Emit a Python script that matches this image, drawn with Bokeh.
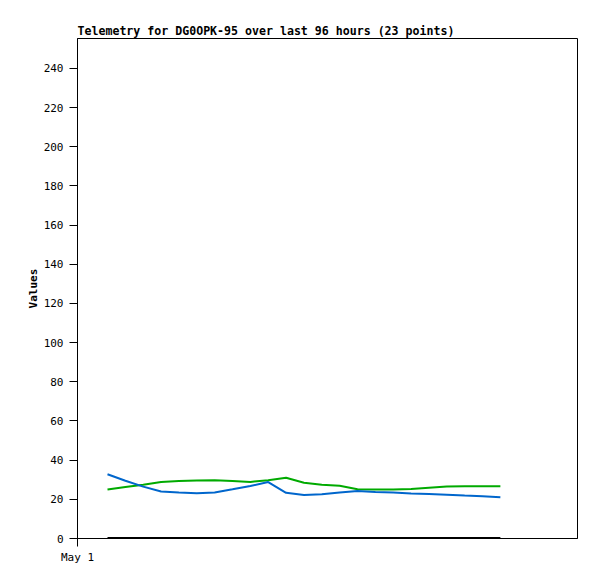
from bokeh.plotting import figure
from bokeh.models import FixedTicker, Range1d
from bokeh.embed import file_html
from bokeh.resources import INLINE

# hours since May 1 00:00
n_points = 23
x_start = 7.2
x_step = 4.286
hours = [round(x_start + i * x_step, 2) for i in range(n_points)]

series_blue = [32.8, 29.5, 26.5, 24.0, 23.5, 23.1, 23.5, 25.1, 26.8, 28.8, 23.3, 22.2,
               22.6, 23.5, 24.3, 23.8, 23.5, 23.0, 22.7, 22.3, 21.9, 21.6, 21.1]
series_green = [25.0, 26.3, 27.5, 28.8, 29.3, 29.6, 29.8, 29.4, 28.9, 29.8, 31.0, 28.5,
                27.5, 26.9, 25.2, 25.0, 25.0, 25.3, 25.9, 26.5, 26.7, 26.7, 26.7]
series_black = [0.0] * n_points

x_tick_values = [0]
x_tick_labels = ["May 1"]
y_tick_values = list(range(0, 241, 20))

FONT = "DejaVu Sans Mono"

p = figure(width=585, height=571, output_backend="svg", toolbar_location=None,
           x_range=Range1d(0, 120), y_range=Range1d(0, 255.3),
           frame_width=500, frame_height=500,
           min_border_left=77, min_border_top=38, min_border_right=8, min_border_bottom=33,
           title="Telemetry for DG0OPK-95 over last 96 hours (23 points)")

p.title.text_font = FONT
p.title.text_font_size = "11.6px"
p.title.text_font_style = "bold"
p.title.text_color = "black"
p.title.align = "left"
p.title.offset = 0
p.title.standoff = 2

p.outline_line_color = "black"
p.outline_line_width = 1
p.outline_line_alpha = 1
p.xgrid.visible = False
p.ygrid.visible = False
p.background_fill_color = "white"
p.border_fill_color = "white"

p.line(hours, series_black, line_color="black", line_width=3)
p.line(hours, series_green, line_color="#00aa00", line_width=2)
p.line(hours, series_blue, line_color="#0066cc", line_width=2)

for ax in (p.yaxis, p.xaxis):
    ax.minor_tick_line_color = None
    ax.major_tick_in = 0
    ax.major_tick_out = 8
    ax.major_tick_line_color = "black"
    ax.axis_line_color = "black"
    ax.major_label_text_font = FONT
    ax.major_label_text_font_size = "11px"
    ax.major_label_text_color = "black"

p.yaxis.ticker = FixedTicker(ticks=y_tick_values)
p.yaxis.major_label_standoff = 6
p.yaxis.axis_label = "Values"
p.yaxis.axis_label_text_font = FONT
p.yaxis.axis_label_text_font_size = "11px"
p.yaxis.axis_label_text_font_style = "bold"
p.yaxis.axis_label_text_color = "black"
p.yaxis.axis_label_standoff = 1

p.xaxis.ticker = FixedTicker(ticks=x_tick_values)
p.xaxis.major_label_overrides = {t: l for t, l in zip(x_tick_values, x_tick_labels)}
p.xaxis.major_label_standoff = 4

open("out.html", "w").write(file_html(p, INLINE))
